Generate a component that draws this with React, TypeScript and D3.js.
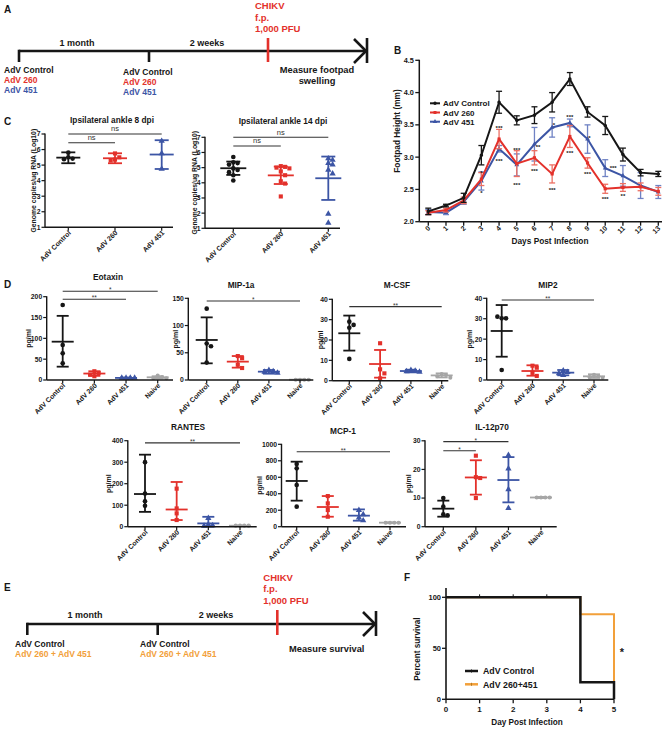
import React from "react";
import * as d3 from "d3";

const W = 669;
const H = 729;
const FONT = "'Liberation Sans', Arial, Helvetica, sans-serif";
const INK = "#161616";
const RED = "#e3312b";
const BLUE = "#3c55a5";
const GRAY = "#a6a6a6";
const ORANGE = "#f2a03a";

// ---------- Panel A / E timeline text ----------
const INTERVALS = ["1 month", "2 weeks"];
const CHALLENGE = ["CHIKV", "f.p.", "1,000 PFU"];
const A_GROUPS = ["AdV Control", "AdV 260", "AdV 451"];
const A_OUTCOME = ["Measure footpad", "swelling"];
const E_GROUPS = ["AdV Control", "AdV 260 + AdV 451"];
const E_OUTCOME = ["Measure survival"];

// ---------- Panel B: footpad height ----------
const DAYS = [0, 1, 2, 3, 4, 5, 6, 7, 8, 9, 10, 11, 12, 13];
const B_SERIES = ["AdV Control", "AdV 260", "AdV 451"];
const B_CONTROL = [2.16, 2.25, 2.37, 3.03, 3.85, 3.57, 3.65, 3.85, 4.21, 3.7, 3.49, 3.04, 2.76, 2.74];
const B_CONTROL_ERR = [0.05, 0.02, 0.07, 0.15, 0.17, 0.07, 0.13, 0.15, 0.1, 0.08, 0.14, 0.1, 0.05, 0.04];
const B_AD260 = [2.14, 2.18, 2.33, 2.66, 3.28, 2.9, 2.99, 2.74, 3.32, 2.91, 2.51, 2.53, 2.54, 2.47];
const B_AD260_ERR = [0.03, 0.03, 0.05, 0.1, 0.15, 0.2, 0.11, 0.14, 0.17, 0.08, 0.07, 0.06, 0.06, 0.06];
const B_AD451 = [2.15, 2.14, 2.31, 2.63, 3.13, 2.88, 3.2, 3.46, 3.53, 3.28, 2.83, 2.71, 2.56, 2.46];
const B_AD451_ERR = [0.04, 0.03, 0.04, 0.14, 0.05, 0.17, 0.26, 0.15, 0.06, 0.22, 0.13, 0.16, 0.2, 0.1];
const B_Y_TICKS = [2.0, 2.5, 3.0, 3.5, 4.0, 4.5];
const B_STAR_DAY = [3, 3, 4, 4, 5, 5, 6.2, 6, 7.1, 7, 8, 8, 9.1, 9, 10.45, 10, 11];
const B_STAR_VALUE = [2.77, 2.46, 3.47, 2.95, 3.12, 2.58, 3.17, 2.8, 3.52, 2.5, 3.63, 3.08, 3.31, 2.76, 2.85, 2.36, 2.42];
const B_STAR_TEXT = ["*", "*", "***", "***", "***", "***", "**", "***", "*", "***", "***", "***", "*", "***", "***", "***", "**"];

// ---------- Panel C: genome copies ----------
const C_CATS = ["AdV Control", "AdV 260", "AdV 451"];
const C_TICKS = [1, 2, 3, 4, 5, 6, 7];
const C8_POINTS = [[5.8, 5.5, 5.42, 5.38], [5.75, 5.5, 5.35, 5.3], [4.75, 5.75, 6.55]];
const C8_MEAN = [5.48, 5.44, 5.68];
const C8_LOW = [5.12, 5.12, 4.75];
const C8_HIGH = [5.82, 5.76, 6.6];
const C8_BRACKETS = [
  { from: "AdV Control", to: "AdV 451", at: 7.0, label: "ns" },
  { from: "AdV Control", to: "AdV 260", at: 6.44, label: "ns" },
];
const C14_POINTS = [
  [5.7, 5.35, 5.3, 5.2, 4.95, 4.85, 4.7, 4.5, 4.15],
  [5.1, 5.05, 5.0, 4.95, 4.75, 4.5, 4.1, 3.95, 3.1],
  [5.6, 5.5, 5.3, 5.2, 4.85, 4.6, 1.95, 1.35],
];
const C14_MEAN = [4.96, 4.49, 4.3];
const C14_LOW = [4.52, 3.92, 2.87];
const C14_HIGH = [5.4, 5.07, 5.73];
const C14_BRACKETS = [
  { from: "AdV Control", to: "AdV 451", at: 7.0, label: "ns" },
  { from: "AdV Control", to: "AdV 260", at: 6.43, label: "ns" },
];

// ---------- Panel D: cytokines ----------
const D_CATS = ["AdV Control", "AdV 260", "AdV 451", "Naive"];

const EOTAXIN_POINTS = [[180, 84, 64, 40], [21, 17, 13, 9], [5, 5, 5, 5], [11, 7, 5, 4]];
const EOTAXIN_MEAN = [92, 15.5, 5, 6.5];
const EOTAXIN_LOW = [32, 10, 4, 4];
const EOTAXIN_HIGH = [154, 21, 6, 9];
const EOTAXIN_TICKS = [0, 50, 100, 150, 200];
const EOTAXIN_BRACKETS = [
  { from: "AdV Control", to: "Naive", at: 213, label: "*" },
  { from: "AdV Control", to: "AdV 451", at: 194, label: "**" },
];

const MIP1A_POINTS = [[131, 67, 62, 32], [44, 40, 28, 22], [18, 16, 15, 13], [0.6, 0.6, 0.6, 0.6]];
const MIP1A_MEAN = [73.5, 33.7, 15.3, 0.6];
const MIP1A_LOW = [30.6, 22.7, 11.6, 0.3];
const MIP1A_HIGH = [115, 44, 18.4, 0.9];
const MIP1A_TICKS = [0, 50, 100, 150];
const MIP1A_BRACKETS = [{ from: "AdV Control", to: "Naive", at: 145, label: "*" }];

const MCSF_POINTS = [[29, 27.4, 26, 10.7], [18.4, 5.6, 3.6, 1.1], [5.2, 4.8, 4.6, 4.3], [3.3, 2.8, 2.2, 1.5]];
const MCSF_MEAN = [23.3, 8.2, 4.75, 2.6];
const MCSF_LOW = [14.8, 1.5, 4.1, 1.6];
const MCSF_HIGH = [32, 15.1, 5.4, 3.6];
const MCSF_TICKS = [0, 10, 20, 30, 40];
const MCSF_BRACKETS = [{ from: "AdV Control", to: "Naive", at: 36.4, label: "**" }];

const MIP2_POINTS = [[30.2, 30.2, 31, 4.9], [7, 6, 3.5, 2], [4.6, 3.8, 3.2, 2.4], [2.6, 1.9, 1.4, 1.1]];
const MIP2_MEAN = [24, 4.4, 3.6, 1.8];
const MIP2_LOW = [11.4, 2.1, 2.3, 1];
const MIP2_HIGH = [36.7, 7.2, 4.9, 2.8];
const MIP2_TICKS = [0, 10, 20, 30, 40];
const MIP2_BRACKETS = [{ from: "AdV Control", to: "Naive", at: 39.2, label: "**" }];

const RANTES_POINTS = [[300, 154, 118, 97], [177, 85, 62, 31], [40, 10, 6, 4], [5, 5, 5, 5]];
const RANTES_MEAN = [152, 80, 15.4, 4.6];
const RANTES_LOW = [69, 31, 0, 3];
const RANTES_HIGH = [335, 208, 46, 6];
const RANTES_TICKS = [0, 100, 200, 300, 400];
const RANTES_BRACKETS = [{ from: "AdV Control", to: "Naive", at: 390, label: "**" }];

const MCP1_POINTS = [[761, 708, 506, 243], [372, 283, 202, 121], [200, 150, 110, 75], [49, 49, 49, 49]];
const MCP1_MEAN = [555, 239, 134, 49];
const MCP1_LOW = [316, 121, 73, 46];
const MCP1_HIGH = [789, 372, 210, 52];
const MCP1_TICKS = [0, 200, 400, 600, 800, 1000];
const MCP1_BRACKETS = [{ from: "AdV Control", to: "Naive", at: 910, label: "**" }];

const IL12_POINTS = [[10, 7, 4.3, 4.0], [24.8, 17.3, 17, 10], [25, 20.3, 13, 6.5], [10.2, 10.2, 10.2, 10.2]];
const IL12_MEAN = [6.3, 17.2, 16.3, 10.2];
const IL12_LOW = [3.5, 11.2, 8.5, 10];
const IL12_HIGH = [9.1, 23.2, 24.3, 10.4];
const IL12_TICKS = [0, 10, 20, 30];
const IL12_BRACKETS = [
  { from: "AdV Control", to: "AdV 451", at: 29.7, label: "*" },
  { from: "AdV Control", to: "AdV 260", at: 26.5, label: "*" },
];

// ---------- Panel F: survival ----------
const F_SERIES = ["AdV Control", "AdV 260+451"];
const F_DAYS = [0, 4, 5];
const F_CONTROL = [100, 16.7, 0];
const F_COMBO = [100, 83.3, 16.7];
const F_X_TICKS = [0, 1, 2, 3, 4, 5];
const F_Y_TICKS = [0, 50, 100];
const F_CENSOR_DAYS = [1, 2, 3];

// ======================================================================

function Timeline(p: any) {
  const sw = 2.6;
  const y = p.lineY;
  return (
    <g fontFamily={FONT} fontWeight="bold">
      <line x1={p.x0} x2={p.x1} y1={y} y2={y} stroke={INK} strokeWidth={sw} />
      <line x1={p.x0} x2={p.x0} y1={y - sw / 2} y2={y + 11} stroke={INK} strokeWidth={sw} />
      <line x1={p.midX} x2={p.midX} y1={y} y2={y + 11} stroke={INK} strokeWidth={sw} />
      <line x1={p.redX} x2={p.redX} y1={p.redTop} y2={y + 11} stroke={RED} strokeWidth={sw} />
      <line x1={p.x1} x2={p.x1} y1={y - 13} y2={y + 12} stroke={INK} strokeWidth={sw} />
      <polyline
        points={`${p.x1 - 13},${y - 12} ${p.x1 - 1},${y} ${p.x1 - 13},${y + 12}`}
        fill="none"
        stroke={INK}
        strokeWidth={sw}
      />
      {INTERVALS.map((t, i) => (
        <text key={t} x={p.intervalX[i]} y={p.intervalY} textAnchor="middle" fontSize={9} fill={INK}>
          {t}
        </text>
      ))}
      {CHALLENGE.map((t, i) => (
        <text key={t} x={p.chX} y={p.chY + i * 11.7} fontSize={9.5} fill={RED}>
          {t}
        </text>
      ))}
      {p.groups.map((t: string, i: number) => (
        <g key={t}>
          <text x={p.g1X} y={p.g1Y + i * p.gDy} fontSize={8.5} fill={p.groupColors[i]}>
            {t}
          </text>
          <text x={p.g2X} y={p.g2Y + i * p.gDy} fontSize={8.5} fill={p.groupColors[i]}>
            {t}
          </text>
        </g>
      ))}
      {p.outcome.map((t: string, i: number) => (
        <text key={t} x={p.outX} y={p.outY + i * 11} textAnchor="middle" fontSize={9.3} fill={INK}>
          {t}
        </text>
      ))}
    </g>
  );
}

function marker(type: string, size: number) {
  const t = type === "square" ? d3.symbolSquare : type === "triangle" ? d3.symbolTriangle : d3.symbolCircle;
  return d3.symbol().type(t).size(size)() as string;
}

function FootpadPanel() {
  const x = d3.scaleLinear().domain([0, 13]).range([428.3, 658.3]);
  const y = d3.scaleLinear().domain([2, 4.5]).range([221.7, 60.3]);
  const axisX = 419.3;
  const axisY = 221.7;
  const series = [
    { name: B_SERIES[2], vals: B_AD451, err: B_AD451_ERR, color: BLUE, errColor: "#6f82c4", shape: "triangle" },
    { name: B_SERIES[1], vals: B_AD260, err: B_AD260_ERR, color: RED, errColor: "#ec6f63", shape: "square" },
    { name: B_SERIES[0], vals: B_CONTROL, err: B_CONTROL_ERR, color: INK, errColor: INK, shape: "circle" },
  ];
  const line = d3
    .line<number>()
    .x((_, i) => x(DAYS[i]))
    .y((v) => y(v));
  const legendOrder = [series[2], series[1], series[0]];
  return (
    <g fontFamily={FONT} fontWeight="bold">
      {series.map((s) => (
        <g key={s.name}>
          {s.vals.map((v, i) => (
            <g key={i} stroke={s.errColor} strokeWidth={1.3}>
              <line x1={x(DAYS[i])} x2={x(DAYS[i])} y1={y(v - s.err[i])} y2={y(v + s.err[i])} />
              <line x1={x(DAYS[i]) - 3} x2={x(DAYS[i]) + 3} y1={y(v - s.err[i])} y2={y(v - s.err[i])} />
              <line x1={x(DAYS[i]) - 3} x2={x(DAYS[i]) + 3} y1={y(v + s.err[i])} y2={y(v + s.err[i])} />
            </g>
          ))}
          <path d={line(s.vals) as string} fill="none" stroke={s.color} strokeWidth={2} />
          {s.vals.map((v, i) => (
            <path key={i} d={marker(s.shape, 10)} transform={`translate(${x(DAYS[i])},${y(v)})`} fill={s.color} />
          ))}
        </g>
      ))}
      {B_STAR_DAY.map((d, i) => (
        <text key={i} x={x(d)} y={y(B_STAR_VALUE[i]) + 3} textAnchor="middle" fontSize={6} fill={INK}>
          {B_STAR_TEXT[i]}
        </text>
      ))}
      <line x1={axisX} x2={axisX} y1={axisY} y2={y(4.5) - 0.5} stroke={INK} strokeWidth={1.5} />
      <line x1={axisX} x2={662} y1={axisY} y2={axisY} stroke={INK} strokeWidth={1.5} />
      {B_Y_TICKS.map((t) => (
        <g key={t}>
          <line x1={axisX - 4} x2={axisX} y1={y(t)} y2={y(t)} stroke={INK} strokeWidth={1.3} />
          <text x={axisX - 5.5} y={y(t) + 2.6} textAnchor="end" fontSize={7.3} fill={INK}>
            {d3.format(".1f")(t)}
          </text>
        </g>
      ))}
      {DAYS.map((d) => (
        <g key={d}>
          <line x1={x(d)} x2={x(d)} y1={axisY} y2={axisY + 4} stroke={INK} strokeWidth={1.3} />
          <text
            transform={`translate(${x(d) + 2.5},${axisY + 7}) rotate(-45)`}
            textAnchor="end"
            fontSize={7}
            fill={INK}
          >
            {d}
          </text>
        </g>
      ))}
      <text x={550} y={243.5} textAnchor="middle" fontSize={8.3} fill={INK}>
        Days Post Infection
      </text>
      <text transform={`translate(400,131) rotate(-90)`} textAnchor="middle" fontSize={8.3} fill={INK}>
        Footpad Height (mm)
      </text>
      {legendOrder.map((s, i) => (
        <g key={s.name} transform={`translate(430,${103.3 + i * 9.2})`}>
          <line x1={0} x2={10} y1={0} y2={0} stroke={s.color} strokeWidth={2} />
          <path d={marker(s.shape, 9)} transform="translate(5,0)" fill={s.color} />
          <text x={13} y={3} fontSize={8} fill={INK}>
            {s.name}
          </text>
        </g>
      ))}
    </g>
  );
}

function swarmOffsets(vals: number[], y: (v: number) => number, d: number) {
  const placed: { x: number; y: number }[] = [];
  const cands = [0, d, -d, 2 * d, -2 * d, 3 * d, -3 * d, 4 * d, -4 * d];
  return vals.map((v) => {
    const py = y(v);
    for (const c of cands) {
      if (placed.every((p) => Math.hypot(p.x - c, p.y - py) >= d - 0.01)) {
        placed.push({ x: c, y: py });
        return c;
      }
    }
    placed.push({ x: 0, y: py });
    return 0;
  });
}

const COLORS4 = [INK, RED, BLUE, GRAY];
const SHAPES4 = ["circle", "square", "triangle", "circle"];

function Scatter(p: any) {
  const L = p.layout;
  const domain = [0, d3.max(p.ticks as number[]) as number];
  if (p.ticks[0] !== 0) domain[0] = p.ticks[0];
  const y = d3.scaleLinear().domain(domain).range([L.bottom, L.top]);
  const x = d3.scalePoint<string>().domain(p.cats).range([L.cat0, L.cat1]);
  const midY = (L.bottom + L.top) / 2;
  return (
    <g fontFamily={FONT} fontWeight="bold">
      <text x={L.titleX} y={L.titleY} textAnchor="middle" fontSize={8.3} fill={INK}>
        {p.title}
      </text>
      <text
        transform={`translate(${L.yLabelX + 2.5},${midY}) rotate(-90)`}
        textAnchor="middle"
        fontSize={p.yLabelSize}
        fill={INK}
      >
        {p.yLabel}
      </text>
      {p.brackets.map((b: any, i: number) => (
        <g key={i}>
          <line x1={x(b.from)} x2={x(b.to)} y1={y(b.at)} y2={y(b.at)} stroke="#333" strokeWidth={1.1} />
          <text
            x={((x(b.from) as number) + (x(b.to) as number)) / 2}
            y={b.label === "ns" ? y(b.at) - 2.6 : y(b.at) + 1}
            textAnchor="middle"
            fontSize={b.label === "ns" ? 7.5 : 6.5}
            fontWeight="normal"
            fill="#333"
          >
            {b.label}
          </text>
        </g>
      ))}
      {p.points.map((vals: number[], gi: number) => {
        const cx = x(p.cats[gi]) as number;
        const offs = swarmOffsets(vals, y, 4.3);
        return (
          <g key={gi}>
            {vals.map((v, i) => (
              <path
                key={i}
                d={marker(SHAPES4[gi], gi === 3 ? 13 : 17)}
                transform={`translate(${cx + offs[i]},${y(v)})`}
                fill={COLORS4[gi]}
              />
            ))}
          </g>
        );
      })}
      {p.mean.map((m: number, gi: number) => {
        const cx = x(p.cats[gi]) as number;
        const c = COLORS4[gi];
        const lo = Math.max(p.low[gi], domain[0]);
        return (
          <g key={gi} stroke={c} strokeWidth={1.8}>
            <line x1={cx} x2={cx} y1={y(lo)} y2={y(p.high[gi])} />
            <line x1={cx - L.cap} x2={cx + L.cap} y1={y(lo)} y2={y(lo)} />
            <line x1={cx - L.cap} x2={cx + L.cap} y1={y(p.high[gi])} y2={y(p.high[gi])} />
            <line x1={cx - L.half} x2={cx + L.half} y1={y(m)} y2={y(m)} />
          </g>
        );
      })}
      <line x1={L.axisX} x2={L.axisX} y1={L.bottom} y2={L.top - 0.5} stroke={INK} strokeWidth={1.4} />
      <line x1={L.axisX} x2={L.axisEnd} y1={L.bottom} y2={L.bottom} stroke={INK} strokeWidth={1.4} />
      {p.ticks.map((t: number) => (
        <g key={t}>
          <line x1={L.axisX - 3.5} x2={L.axisX} y1={y(t)} y2={y(t)} stroke={INK} strokeWidth={1.2} />
          <text x={L.axisX - 4.5} y={y(t) + 2.4} textAnchor="end" fontSize={6.8} fill={INK}>
            {t}
          </text>
        </g>
      ))}
      {p.cats.map((c: string) => (
        <g key={c}>
          <line x1={x(c)} x2={x(c)} y1={L.bottom} y2={L.bottom + 3.5} stroke={INK} strokeWidth={1.2} />
          <text
            transform={`translate(${(x(c) as number) + 3},${L.bottom + 6}) rotate(-45)`}
            textAnchor="end"
            fontSize={6.9}
            fill={INK}
          >
            {c}
          </text>
        </g>
      ))}
    </g>
  );
}

function SurvivalPanel() {
  const x = d3.scaleLinear().domain([0, 5]).range([446, 614]);
  const y = d3.scaleLinear().domain([0, 100]).range([699.3, 597.3]);
  const pts = (vals: number[]) => F_DAYS.map((d, i) => [x(d), y(vals[i])] as [number, number]);
  const step = d3.line().curve(d3.curveStepAfter);
  return (
    <g fontFamily={FONT} fontWeight="bold">
      <path d={step(pts(F_COMBO)) as string} fill="none" stroke={ORANGE} strokeWidth={2} />
      <path d={step(pts(F_CONTROL)) as string} fill="none" stroke={INK} strokeWidth={2.5} />
      {F_CENSOR_DAYS.map((d) => (
        <line key={d} x1={x(d)} x2={x(d)} y1={y(100)} y2={y(100) - 3} stroke={INK} strokeWidth={1} />
      ))}
      <line x1={446} x2={446} y1={y(0)} y2={588} stroke={INK} strokeWidth={1.6} />
      <line x1={446} x2={x(5)} y1={y(0)} y2={y(0)} stroke={INK} strokeWidth={1.6} />
      {F_Y_TICKS.map((t) => (
        <g key={t}>
          <line x1={442} x2={446} y1={y(t)} y2={y(t)} stroke={INK} strokeWidth={1.3} />
          <text x={441} y={y(t) + 2.8} textAnchor="end" fontSize={7.5} fill={INK}>
            {t}
          </text>
        </g>
      ))}
      {F_X_TICKS.map((t) => (
        <g key={t}>
          <line x1={x(t)} x2={x(t)} y1={y(0)} y2={y(0) + 4} stroke={INK} strokeWidth={1.3} />
          <text x={x(t)} y={711.5} textAnchor="middle" fontSize={8} fill={INK}>
            {t}
          </text>
        </g>
      ))}
      <text x={527} y={725} textAnchor="middle" fontSize={8.2} fill={INK}>
        Day Post Infection
      </text>
      <text transform="translate(420,649) rotate(-90)" textAnchor="middle" fontSize={8.2} fill={INK}>
        Percent survival
      </text>
      <text x={622} y={656} textAnchor="middle" fontSize={11} fill={INK}>
        *
      </text>
      {F_SERIES.map((s, i) => (
        <g key={s} transform={`translate(465,${671 + i * 13.3})`}>
          <line x1={0} x2={13} y1={0} y2={0} stroke={i === 0 ? INK : ORANGE} strokeWidth={2.5} />
          <line x1={6.5} x2={6.5} y1={-1.5} y2={1.5} stroke={i === 0 ? INK : "#b87a20"} strokeWidth={1} />
          <text x={18} y={3.2} fontSize={8.8} fill={INK}>
            {s}
          </text>
        </g>
      ))}
    </g>
  );
}

const LAYOUT_C8 = { axisX: 45, axisEnd: 173, top: 134, bottom: 227.3, cat0: 68.3, cat1: 161.7, titleX: 112, titleY: 122.5, yLabelX: 33, cap: 7, half: 12 };
const LAYOUT_C14 = { axisX: 205, axisEnd: 340, top: 137.3, bottom: 228.3, cat0: 233.3, cat1: 328.3, titleX: 283, titleY: 124, yLabelX: 194, cap: 7, half: 13 };
const LAYOUT_EOT = { axisX: 46.7, axisEnd: 173, top: 296.7, bottom: 380, cat0: 62.7, cat1: 157.7, titleX: 108, titleY: 280, yLabelX: 28, cap: 6, half: 11 };
const LAYOUT_MIP1A = { axisX: 188.3, axisEnd: 313.3, top: 298.3, bottom: 380, cat0: 206.7, cat1: 300, titleX: 241, titleY: 288, yLabelX: 175, cap: 6, half: 11 };
const LAYOUT_MCSF = { axisX: 332.3, axisEnd: 448.3, top: 299.3, bottom: 380.7, cat0: 349.3, cat1: 441.7, titleX: 397, titleY: 288, yLabelX: 320, cap: 6, half: 11 };
const LAYOUT_MIP2 = { axisX: 486.7, axisEnd: 608.3, top: 298.3, bottom: 380, cat0: 501.7, cat1: 594, titleX: 548, titleY: 288, yLabelX: 469.3, cap: 6, half: 11 };
const LAYOUT_RANTES = { axisX: 127.8, axisEnd: 256.7, top: 440.7, bottom: 526.7, cat0: 145, cat1: 240, titleX: 188, titleY: 430, yLabelX: 108, cap: 6, half: 11 };
const LAYOUT_MCP1 = { axisX: 281.5, axisEnd: 406, top: 444.3, bottom: 526.7, cat0: 296.7, cat1: 390, titleX: 343, titleY: 433.5, yLabelX: 259, cap: 6, half: 11 };
const LAYOUT_IL12 = { axisX: 425, axisEnd: 556.7, top: 440.8, bottom: 526.7, cat0: 443.3, cat1: 541, titleX: 492, titleY: 430, yLabelX: 408.5, cap: 6, half: 11 };

export default function App() {
  return (
    <svg
      width={W}
      height={H}
      viewBox={`0 0 ${W} ${H}`}
      style={{ position: "absolute", left: 0, top: 0, background: "#fff" }}
    >
      <rect width={W} height={H} fill="#fff" />
      <g fontFamily={FONT} fontWeight="bold" fontSize={10} fill={INK}>
        <text x={4} y={13}>A</text>
        <text x={394} y={54}>B</text>
        <text x={4} y={125}>C</text>
        <text x={4} y={288}>D</text>
        <text x={4} y={591}>E</text>
        <text x={404} y={581}>F</text>
      </g>
      <Timeline
        lineY={51}
        x0={19}
        x1={367}
        midX={149}
        redX={268}
        redTop={38}
        chX={255}
        chY={9}
        intervalX={[77, 207]}
        intervalY={46}
        groups={A_GROUPS}
        groupColors={[INK, RED, BLUE]}
        g1X={4}
        g1Y={73}
        g2X={123}
        g2Y={74.5}
        gDy={10}
        outcome={A_OUTCOME}
        outX={317}
        outY={73}
      />
      <FootpadPanel />
      <Scatter
        layout={LAYOUT_C8}
        title="Ipsilateral ankle 8 dpi"
        cats={C_CATS}
        ticks={C_TICKS}
        points={C8_POINTS}
        mean={C8_MEAN}
        low={C8_LOW}
        high={C8_HIGH}
        brackets={C8_BRACKETS}
        yLabel="Genome copies/ug RNA (Log10)"
        yLabelSize={6.8}
      />
      <Scatter
        layout={LAYOUT_C14}
        title="Ipsilateral ankle 14 dpi"
        cats={C_CATS}
        ticks={C_TICKS}
        points={C14_POINTS}
        mean={C14_MEAN}
        low={C14_LOW}
        high={C14_HIGH}
        brackets={C14_BRACKETS}
        yLabel="Genome copies/ug RNA (Log10)"
        yLabelSize={6.8}
      />
      <Scatter layout={LAYOUT_EOT} title="Eotaxin" cats={D_CATS} ticks={EOTAXIN_TICKS} points={EOTAXIN_POINTS} mean={EOTAXIN_MEAN} low={EOTAXIN_LOW} high={EOTAXIN_HIGH} brackets={EOTAXIN_BRACKETS} yLabel="pg/ml" yLabelSize={7} />
      <Scatter layout={LAYOUT_MIP1A} title="MIP-1a" cats={D_CATS} ticks={MIP1A_TICKS} points={MIP1A_POINTS} mean={MIP1A_MEAN} low={MIP1A_LOW} high={MIP1A_HIGH} brackets={MIP1A_BRACKETS} yLabel="pg/ml" yLabelSize={7} />
      <Scatter layout={LAYOUT_MCSF} title="M-CSF" cats={D_CATS} ticks={MCSF_TICKS} points={MCSF_POINTS} mean={MCSF_MEAN} low={MCSF_LOW} high={MCSF_HIGH} brackets={MCSF_BRACKETS} yLabel="pg/ml" yLabelSize={7} />
      <Scatter layout={LAYOUT_MIP2} title="MIP2" cats={D_CATS} ticks={MIP2_TICKS} points={MIP2_POINTS} mean={MIP2_MEAN} low={MIP2_LOW} high={MIP2_HIGH} brackets={MIP2_BRACKETS} yLabel="pg/ml" yLabelSize={7} />
      <Scatter layout={LAYOUT_RANTES} title="RANTES" cats={D_CATS} ticks={RANTES_TICKS} points={RANTES_POINTS} mean={RANTES_MEAN} low={RANTES_LOW} high={RANTES_HIGH} brackets={RANTES_BRACKETS} yLabel="pg/ml" yLabelSize={7} />
      <Scatter layout={LAYOUT_MCP1} title="MCP-1" cats={D_CATS} ticks={MCP1_TICKS} points={MCP1_POINTS} mean={MCP1_MEAN} low={MCP1_LOW} high={MCP1_HIGH} brackets={MCP1_BRACKETS} yLabel="pg/ml" yLabelSize={7} />
      <Scatter layout={LAYOUT_IL12} title="IL-12p70" cats={D_CATS} ticks={IL12_TICKS} points={IL12_POINTS} mean={IL12_MEAN} low={IL12_LOW} high={IL12_HIGH} brackets={IL12_BRACKETS} yLabel="pg/ml" yLabelSize={7} />
      <Timeline
        lineY={624}
        x0={27.3}
        x1={376}
        midX={157.7}
        redX={277.3}
        redTop={610}
        chX={263.3}
        chY={580.7}
        intervalX={[85, 216]}
        intervalY={618.3}
        groups={E_GROUPS}
        groupColors={[INK, ORANGE]}
        g1X={15}
        g1Y={646.7}
        g2X={140}
        g2Y={646.7}
        gDy={10}
        outcome={E_OUTCOME}
        outX={326.7}
        outY={651.7}
      />
      <SurvivalPanel />
    </svg>
  );
}
